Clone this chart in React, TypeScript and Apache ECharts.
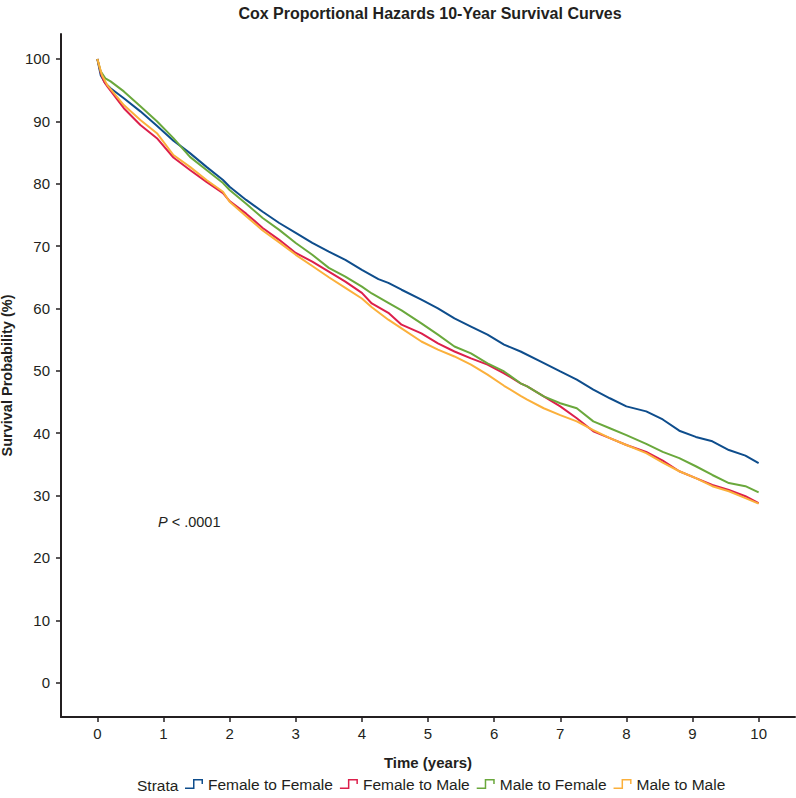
import React, { useEffect, useRef } from "react";
import * as echarts from "echarts";

// Kaplan–Meier style survival estimates (percent) by strata over 10 years
const TIME_FF = [0, 0.05, 0.12, 0.2, 0.4, 0.65, 0.9, 1.15, 1.4, 1.65, 1.9, 2.0, 2.25, 2.5, 2.75, 3.0, 3.25, 3.5, 3.75, 4.0, 4.25, 4.4, 4.6, 4.9, 5.15, 5.4, 5.65, 5.9, 6.15, 6.4, 6.7, 7.0, 7.25, 7.5, 7.75, 8.0, 8.3, 8.55, 8.8, 9.05, 9.3, 9.55, 9.8, 10.0];
const SURV_FF = [100, 97.4, 96.1, 95.3, 93.7, 91.6, 89.3, 86.9, 84.9, 82.7, 80.6, 79.5, 77.4, 75.5, 73.7, 72.1, 70.5, 69.1, 67.8, 66.2, 64.7, 64.1, 63.0, 61.4, 60.0, 58.4, 57.1, 55.8, 54.2, 53.1, 51.5, 49.9, 48.6, 47.0, 45.6, 44.3, 43.5, 42.2, 40.4, 39.4, 38.7, 37.3, 36.4, 35.2];

const TIME_FM = [0, 0.05, 0.1, 0.15, 0.4, 0.65, 0.9, 1.15, 1.4, 1.65, 1.9, 2.0, 2.25, 2.5, 2.75, 3.0, 3.25, 3.5, 3.75, 4.0, 4.15, 4.4, 4.6, 4.9, 5.15, 5.4, 5.65, 5.9, 6.15, 6.4, 6.5, 6.75, 7.0, 7.25, 7.5, 7.75, 8.0, 8.3, 8.55, 8.8, 9.05, 9.3, 9.55, 9.8, 10.0];
const SURV_FM = [100, 97.8, 96.4, 95.6, 92.1, 89.4, 87.3, 84.2, 82.2, 80.3, 78.5, 77.2, 75.2, 72.9, 71.0, 68.9, 67.5, 65.9, 64.3, 62.5, 60.8, 59.3, 57.4, 56.0, 54.4, 53.1, 52.0, 51.0, 49.6, 48.0, 47.5, 45.9, 44.3, 42.4, 40.3, 39.2, 38.1, 37.0, 35.6, 33.9, 32.8, 31.7, 30.9, 29.9, 28.8];

const TIME_MF = [0, 0.05, 0.12, 0.2, 0.4, 0.65, 0.9, 1.15, 1.4, 1.65, 1.9, 2.0, 2.25, 2.5, 2.75, 3.0, 3.25, 3.5, 3.75, 4.0, 4.15, 4.4, 4.6, 4.9, 5.15, 5.4, 5.65, 5.9, 6.15, 6.4, 6.5, 6.75, 7.0, 7.25, 7.5, 7.75, 8.0, 8.3, 8.55, 8.8, 9.05, 9.3, 9.55, 9.8, 10.0];
const SURV_MF = [100, 98.0, 96.9, 96.4, 94.8, 92.4, 90.0, 87.3, 84.3, 82.2, 80.1, 79.0, 76.8, 74.5, 72.6, 70.5, 68.6, 66.5, 65.1, 63.5, 62.4, 60.9, 59.7, 57.6, 55.8, 53.9, 52.8, 51.2, 49.9, 48.0, 47.5, 45.9, 44.8, 44.0, 41.9, 40.8, 39.7, 38.3, 37.0, 36.0, 34.7, 33.3, 32.0, 31.5, 30.5];

const TIME_MM = [0, 0.07, 0.15, 0.4, 0.65, 0.9, 1.15, 1.4, 1.65, 1.9, 2.0, 2.25, 2.5, 2.75, 3.0, 3.25, 3.5, 3.75, 4.0, 4.15, 4.4, 4.6, 4.9, 5.15, 5.4, 5.65, 5.9, 6.15, 6.4, 6.5, 6.75, 7.0, 7.25, 7.5, 7.75, 8.0, 8.3, 8.55, 8.8, 9.05, 9.3, 9.55, 9.8, 10.0];
const SURV_MM = [100, 97.4, 95.8, 92.6, 90.2, 88.1, 84.6, 82.7, 80.6, 78.7, 77.1, 74.8, 72.5, 70.6, 68.6, 66.8, 65.0, 63.3, 61.6, 60.2, 58.2, 56.8, 54.7, 53.4, 52.3, 51.0, 49.4, 47.6, 46.0, 45.4, 44.0, 42.9, 41.9, 40.5, 39.2, 38.1, 36.8, 35.3, 33.9, 32.8, 31.5, 30.7, 29.6, 28.7];

const STRATA = ["Female to Female", "Female to Male", "Male to Female", "Male to Male"];
const COLORS = ["#0e4d8c", "#dc1f4b", "#6aa83c", "#fbb03b"];
const X_TICKS = [0, 1, 2, 3, 4, 5, 6, 7, 8, 9, 10];
const Y_TICKS = [0, 10, 20, 30, 40, 50, 60, 70, 80, 90, 100];
const P_VALUE_TEXT = " < .0001";

const NARROW = '"Liberation Sans Narrow", "Arial Narrow", "Liberation Sans", Arial, sans-serif';
const SANS = '"Liberation Sans", Arial, sans-serif';

// Small step glyph used as legend marker
const STEP_ICON = "path://M0,8.5 H8 V0 H18 V5 H16.5 V1.5 H9.5 V10 H0 Z";

const zip = (t: number[], v: number[]) => t.map((x, i) => [x, v[i]]);

export default function App() {
  const ref = useRef<HTMLDivElement>(null);

  useEffect(() => {
    if (!ref.current) return;
    const chart = echarts.init(ref.current, null, { renderer: "svg" });
    const curves = [
      zip(TIME_FF, SURV_FF),
      zip(TIME_FM, SURV_FM),
      zip(TIME_MF, SURV_MF),
      zip(TIME_MM, SURV_MM),
    ];
    const axisColor = "#231f20";

    chart.setOption({
      animation: false,
      backgroundColor: "#ffffff",
      title: {
        text: "Cox Proportional Hazards 10-Year Survival Curves",
        left: 425,
        textAlign: "center",
        top: 0,
        textStyle: { fontFamily: NARROW, fontSize: 16, fontWeight: "bold", color: axisColor },
      },
      grid: { left: 61, right: 1, top: 34, bottom: 81, containLabel: false, outerBoundsMode: "none" },
      xAxis: {
        type: "value",
        min: -0.55,
        max: 10.55,
        name: "Time (years)",
        nameLocation: "middle",
        nameGap: 38,
        nameTextStyle: { fontFamily: NARROW, fontSize: 15, fontWeight: "bold", color: axisColor },
        axisLine: { show: true, onZero: false, lineStyle: { color: axisColor, width: 2 } },
        axisTick: { show: true, length: 5, customValues: X_TICKS, lineStyle: { color: axisColor, width: 1.5 } },
        axisLabel: { customValues: X_TICKS, margin: 9, fontFamily: NARROW, fontSize: 15, color: axisColor },
        splitLine: { show: false },
      },
      yAxis: {
        type: "value",
        min: -5.5,
        max: 104,
        name: "Survival Probability (%)",
        nameLocation: "middle",
        nameGap: 47,
        nameRotate: 90,
        nameTextStyle: { fontFamily: NARROW, fontSize: 14.5, fontWeight: "bold", color: axisColor },
        axisLine: { show: true, onZero: false, lineStyle: { color: axisColor, width: 2 } },
        axisTick: { show: true, length: 5, customValues: Y_TICKS, lineStyle: { color: axisColor, width: 1.5 } },
        axisLabel: { customValues: Y_TICKS, margin: 11, fontFamily: SANS, fontSize: 15, color: axisColor },
        splitLine: { show: false },
      },
      legend: {
        left: 185,
        top: 776,
        padding: 0,
        itemWidth: 18,
        itemHeight: 10,
        itemGap: 7,
        icon: STEP_ICON,
        data: STRATA,
        textStyle: { fontFamily: NARROW, fontSize: 15.5, color: axisColor },
      },
      graphic: [
        {
          type: "text",
          left: 137,
          top: 777,
          style: { text: "Strata", fontFamily: NARROW, fontSize: 15.5, fill: axisColor },
        },
        {
          type: "text",
          left: 158,
          top: 514,
          style: {
            text: "{i|P}" + P_VALUE_TEXT,
            fontFamily: SANS,
            fontSize: 14.5,
            fill: axisColor,
            rich: { i: { fontStyle: "italic", fontFamily: SANS, fontSize: 14.5, fill: axisColor } },
          },
        },
      ],
      series: STRATA.map((name, i) => ({
        name,
        type: "line",
        data: curves[i],
        showSymbol: false,
        symbol: "none",
        lineStyle: { color: COLORS[i], width: 2 },
        itemStyle: { color: COLORS[i] },
        z: 2 + i,
      })),
    });

    return () => chart.dispose();
  }, []);

  return <div ref={ref} style={{ width: 796, height: 798, position: "absolute", left: 0, top: 0 }} />;
}
